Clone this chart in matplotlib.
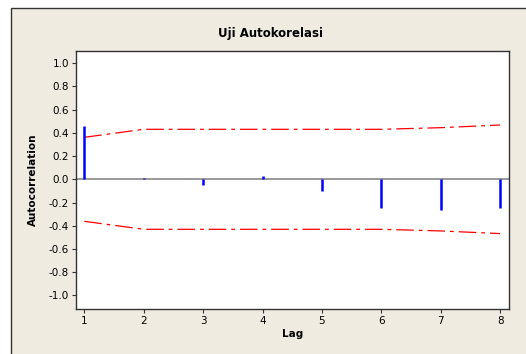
import matplotlib
matplotlib.use("Agg")
import matplotlib.pyplot as plt
from matplotlib.patches import Rectangle

# data
lags = [1, 2, 3, 4, 5, 6, 7, 8]
acf = [0.457, 0.015, -0.05, 0.025, -0.098, -0.25, -0.265, -0.25]
upper = [0.362, 0.431, 0.431, 0.431, 0.431, 0.431, 0.445, 0.468]
lower = [-v for v in upper]
yticks = [1.0, 0.8, 0.6, 0.4, 0.2, 0.0, -0.2, -0.4, -0.6, -0.8, -1.0]

W, H = 526, 354
fig = plt.figure(figsize=(W / 100, H / 100), dpi=100)
fig.patch.set_facecolor("white")

# beige panel with dark frame
panel = Rectangle((11 / W, -0.1), 1.2, 1 - 8 / H + 0.1, transform=fig.transFigure,
                  facecolor="#efebe0", edgecolor="#333333", linewidth=1.0, zorder=-5)
fig.add_artist(panel)

ax = fig.add_axes([76 / W, 1 - 309 / H, (509 - 76) / W, (309 - 51) / H])
ax.set_zorder(1)
ax.set_facecolor("white")

ax.axhline(0, color="#888888", linewidth=1.2, zorder=1)
ax.vlines(lags, 0, acf, color="#0000ff", linewidth=1.8, zorder=3)
ax.plot(lags, upper, color="#ff0000", linestyle=(0, (14, 4, 3, 4)), linewidth=0.9, zorder=2)
ax.plot(lags, lower, color="#ff0000", linestyle=(0, (14, 4, 3, 4)), linewidth=0.9, zorder=2)

ax.set_xlim(0.86, 8.15)
ax.set_ylim(-1.118, 1.106)
ax.set_xticks(lags)
ax.set_yticks(yticks)
ax.set_yticklabels([f"{v:.1f}" for v in yticks])
ax.tick_params(labelsize=7.5, length=3, width=0.8, color="#333333", pad=2)

for s in ax.spines.values():
    s.set_color("#333333")
    s.set_linewidth(1.0)

ax.set_xlabel("Lag", fontsize=7.5, fontweight="bold", labelpad=2)
ax.set_ylabel("Autocorrelation", fontsize=7.5, fontweight="bold", labelpad=8)
fig.text(271 / W, 1 - 33 / H, "Uji Autokorelasi", ha="center", va="center",
         fontsize=8.5, fontweight="bold")

fig.savefig("out.png", dpi=100)
